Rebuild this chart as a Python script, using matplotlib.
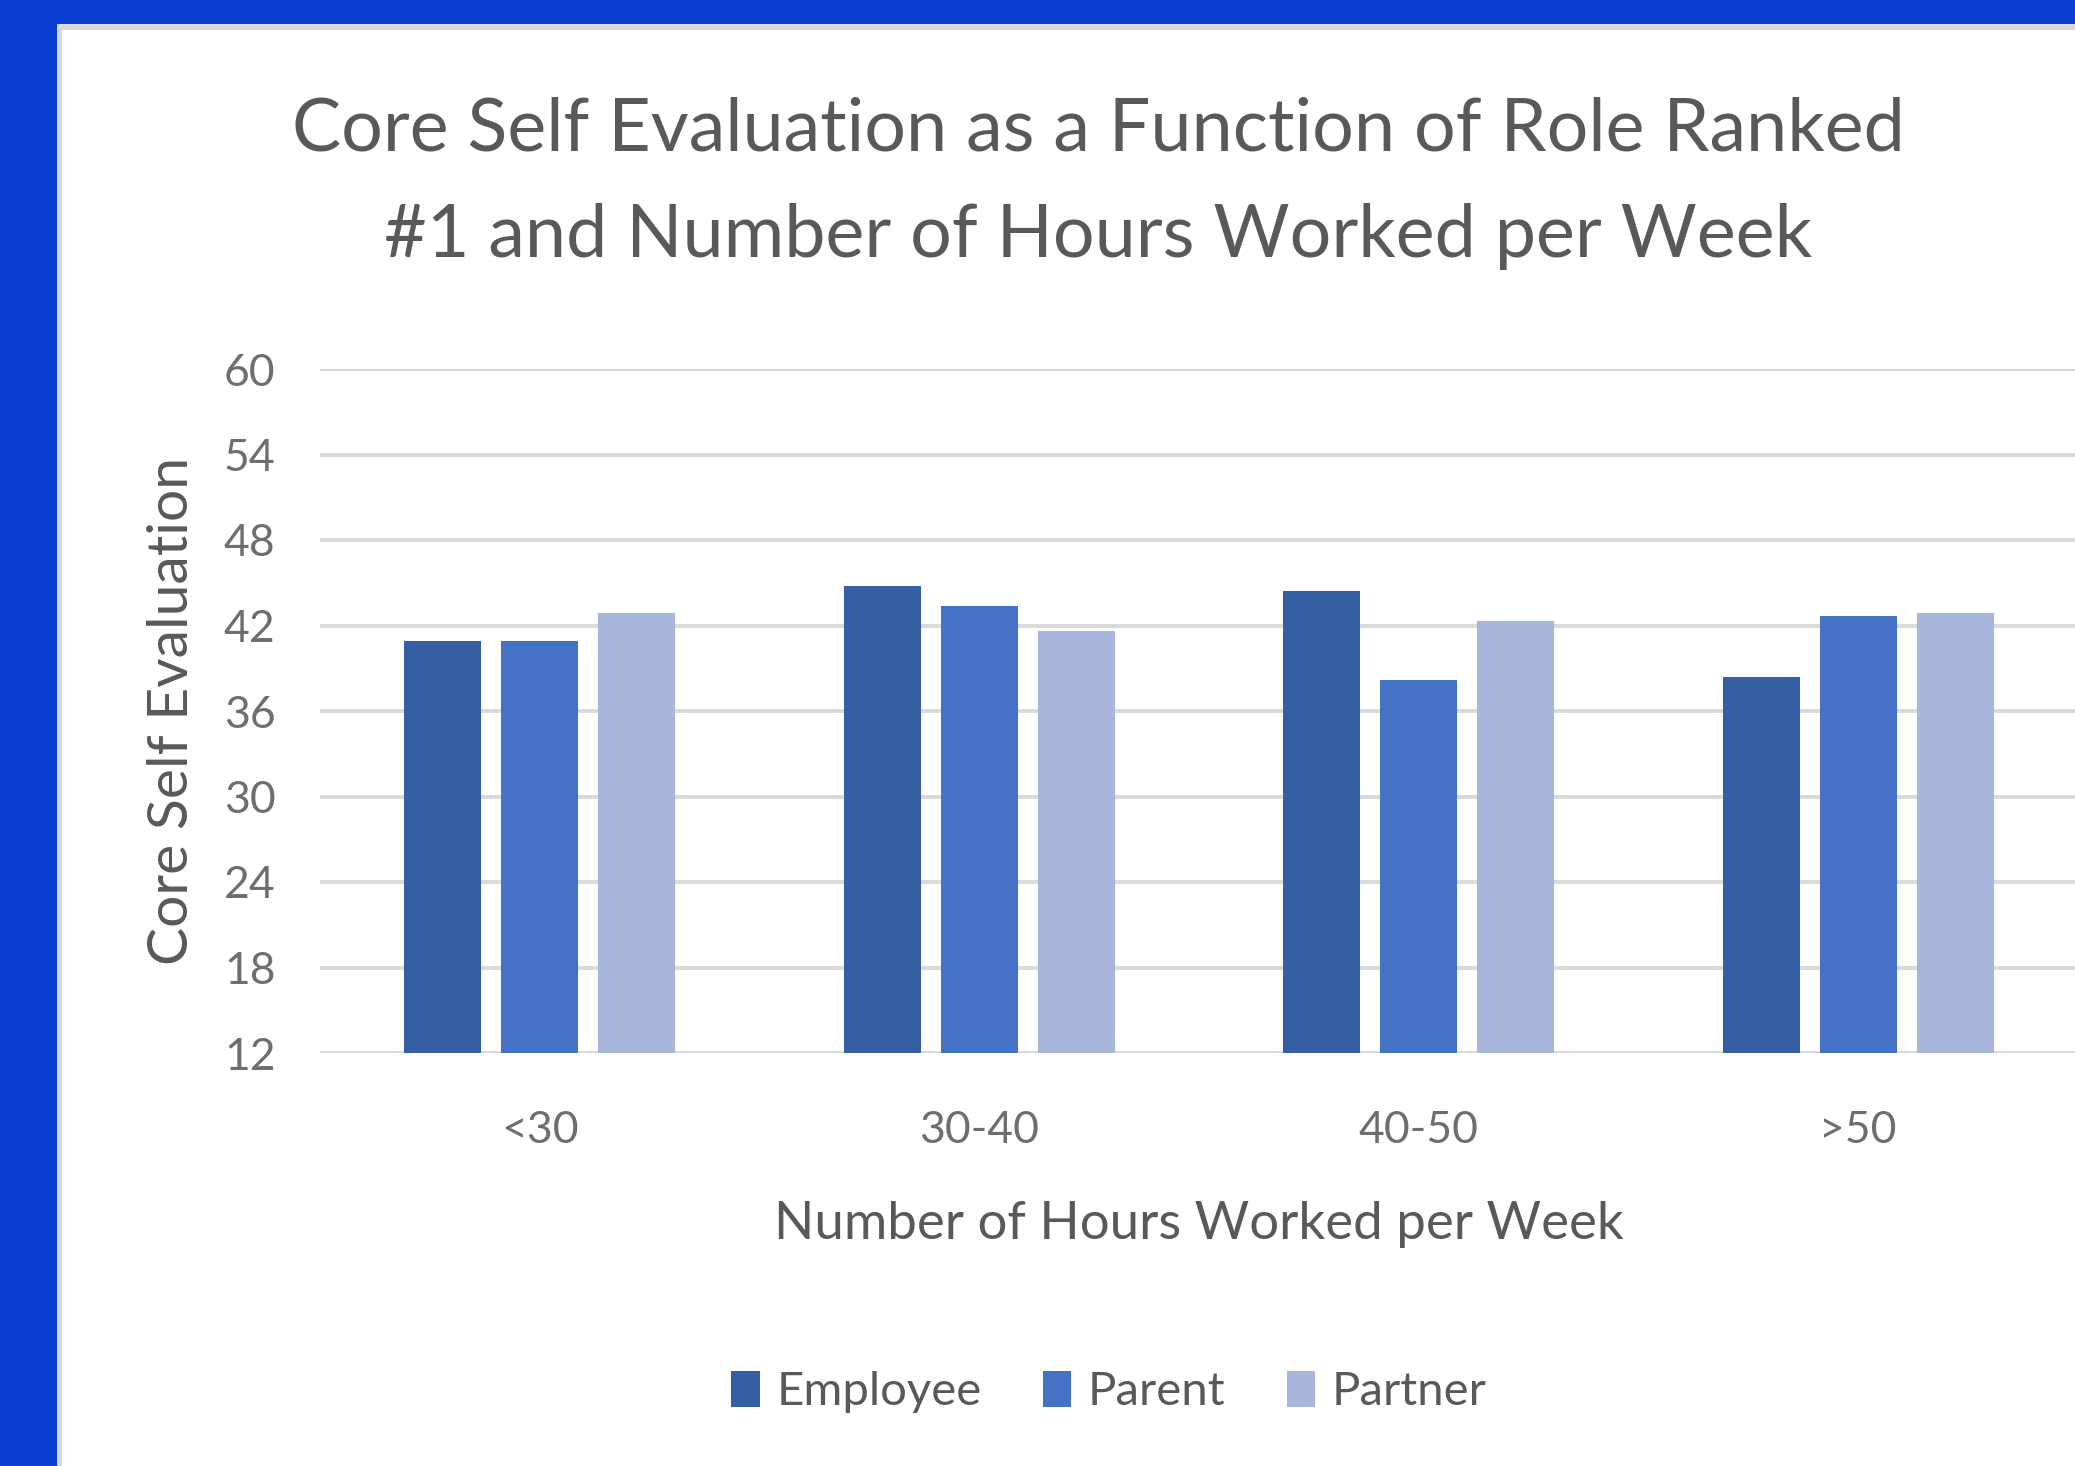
import numpy as np
import matplotlib
matplotlib.use("Agg")
import matplotlib.pyplot as plt
from matplotlib.patches import Rectangle, Patch


categories = ["<30", "30-40", "40-50", ">50"]
employee = [40.9, 44.8, 44.4, 38.4]
parent = [40.9, 43.4, 38.2, 42.7]
partner = [42.9, 41.6, 42.3, 42.9]
series_names = ["Employee", "Parent", "Partner"]
y_ticks = [12, 18, 24, 30, 36, 42, 48, 54, 60]

colors = ["#365EA3", "#4472C4", "#A7B6DA"]
text_grey = "#595959"
tick_grey = "#6E6E6E"
grid_grey = "#D9D9D9"

W, H = 2075, 1466
DPI = 100

plt.rcParams["font.family"] = ["Lato", "DejaVu Sans"]

fig = plt.figure(figsize=(W / DPI, H / DPI), dpi=DPI)
fig.patch.set_facecolor("#0A3FD1")

# white chart panel with thin grey edge (drawn behind the axes)
fig.patches.append(Rectangle((57 / W, 0), 1, 1 - 24 / H, transform=fig.transFigure,
                             facecolor="#D9D9D9", edgecolor="none", zorder=-10))
fig.patches.append(Rectangle((62 / W, 0), 1, 1 - 30 / H, transform=fig.transFigure,
                             facecolor="white", edgecolor="none", zorder=-9))

ax_left, ax_right = 320, 2078
ax_top, ax_bottom = 369, 1053
ax = fig.add_axes([ax_left / W, 1 - ax_bottom / H,
                   (ax_right - ax_left) / W, (ax_bottom - ax_top) / H])
ax.set_facecolor("none")

x = np.arange(len(categories))
bar_w = 0.175
step = 0.221
for i, (vals, name) in enumerate(zip([employee, parent, partner], series_names)):
    ax.bar(x + (i - 1) * step, np.array(vals) - 12, bottom=12, width=bar_w,
           color=colors[i], label=name, zorder=3)

ax.set_xlim(-0.5, len(categories) - 0.5)
ax.set_ylim(12, 60)
ax.set_yticks(y_ticks)
ax.set_xticks(x)
ax.set_xticklabels(categories)
ax.yaxis.grid(True, color=grid_grey, linewidth=2.8, zorder=0)
ax.set_axisbelow(True)
for s in ax.spines.values():
    s.set_visible(False)
ax.tick_params(axis="both", length=0, colors=tick_grey, labelsize=32)
ax.tick_params(axis="y", pad=32)
ax.tick_params(axis="x", pad=41)

ax.set_ylabel("Core Self Evaluation", fontsize=41, color=text_grey)
ax.yaxis.set_label_coords((172 - ax_left) / (ax_right - ax_left), 0.5)
ax.yaxis.label.set_va("center")
ax.set_xlabel("Number of Hours Worked per Week", fontsize=38, color=text_grey)
ax.xaxis.set_label_coords(0.5, (ax_bottom - 1224) / (ax_bottom - ax_top))
ax.xaxis.label.set_va("center")

fig.text(1098 / W, 1 - 130 / H, "Core Self Evaluation as a Function of Role Ranked",
         ha="center", va="center", fontsize=53, color=text_grey)
fig.text(1098 / W, 1 - 236 / H, "#1 and Number of Hours Worked per Week",
         ha="center", va="center", fontsize=53, color=text_grey)

handles = [Patch(facecolor=c, label=n) for c, n in zip(colors, series_names)]
fig.legend(handles=handles, loc="center", bbox_to_anchor=(1109 / W, 1 - 1392 / H),
           ncol=3, frameon=False, fontsize=34, labelcolor=text_grey,
           handlelength=0.6, handleheight=0.8, handletextpad=0.35, columnspacing=1.3)

fig.savefig("out.png", dpi=DPI)
